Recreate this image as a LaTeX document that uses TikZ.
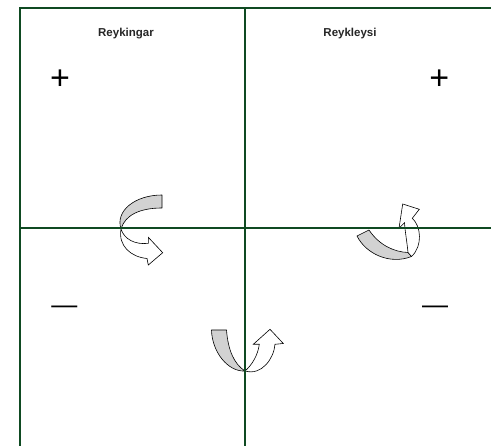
\documentclass[tikz,border=0pt]{standalone}
\usepackage{fontspec}
\setmainfont{Liberation Sans}
\definecolor{gline}{HTML}{0F4A22}
\definecolor{bandgray}{HTML}{D2D2D2}
\tikzset{
  frameline/.style={draw=gline, line width=2pt},
  band/.style={fill=bandgray, draw=black, line width=0.6pt, line join=round},
  headpart/.style={fill=white, draw=black, line width=0.6pt, line join=miter},
  title/.style={font=\fontsize{11.5}{12}\selectfont\bfseries, text=black!85, inner sep=0pt},
  plussign/.style={font=\fontsize{34}{34}\selectfont, inner sep=0pt},
  minussign/.style={font=\fontsize{26}{26}\selectfont, inner sep=0pt}
}
\begin{document}
\begin{tikzpicture}[x=1pt, y=-1pt]
\useasboundingbox (0,0) rectangle (491,446);
% curved arrow 1 (left)
\path[band] (162,195) -- (162,208) .. controls (140,208) and (125,215) .. (121,229)
  .. controls (115,211) and (135,195) .. cycle;
\path[headpart] (121,229) .. controls (118,246) and (131,257) .. (147,258.5)
  -- (148.3,265) -- (162.7,252.7) -- (148.3,237.3) -- (148.3,243.3)
  .. controls (135,245) and (124,239) .. cycle;
% curved arrow 2 (right)
\path[band] (357,236) -- (369,230) .. controls (379,245) and (394,252) .. (408,252.5)
  -- (411.5,256.5) .. controls (390,265) and (366,254) .. cycle;
\path[headpart] (408,252.5) .. controls (407,242) and (405,231) .. (404.5,222.7)
  -- (399,228.3) -- (402.7,204) -- (419.3,209.3) -- (412.3,218.3)
  .. controls (421,226) and (423,246) .. (411.5,256.5) -- cycle;
% curved arrow 3 (bottom)
\path[band] (211.5,330) -- (226.5,330) .. controls (228,350) and (234,364) .. (245,371)
  .. controls (228,372) and (212,352) .. cycle;
\path[headpart] (245,371) .. controls (252,365) and (258,355) .. (259.3,344.3)
  -- (253.3,344.3) -- (270,329.3) -- (283.3,343.5) -- (275,344.3)
  .. controls (274,358) and (262,376) .. cycle;
% frame
\coordinate (tl) at (19.7,8.3);
\coordinate (tr) at (491,8.3);
\coordinate (bl) at (19.7,446);
\coordinate (tm) at (245,8.3);
\coordinate (bm) at (245,446);
\coordinate (ml) at (19.7,228.3);
\coordinate (mr) at (491,228.3);
\draw[frameline] (bl) -- (tl) -- (tr);
\draw[frameline] (tm) -- (bm);
\draw[frameline] (ml) -- (mr);
% labels
\node[title] (t1) at (126,33.5) {Reykingar};
\node[title] (t2) at (350,33.5) {Reykleysi};
\node[plussign] (p1) at (60,79.5) {+};
\node[plussign] (p2) at (439.3,79.5) {+};
\node[minussign] (m1) at (64.3,310) {—};
\node[minussign] (m2) at (435,310) {—};
\end{tikzpicture}
\end{document}
